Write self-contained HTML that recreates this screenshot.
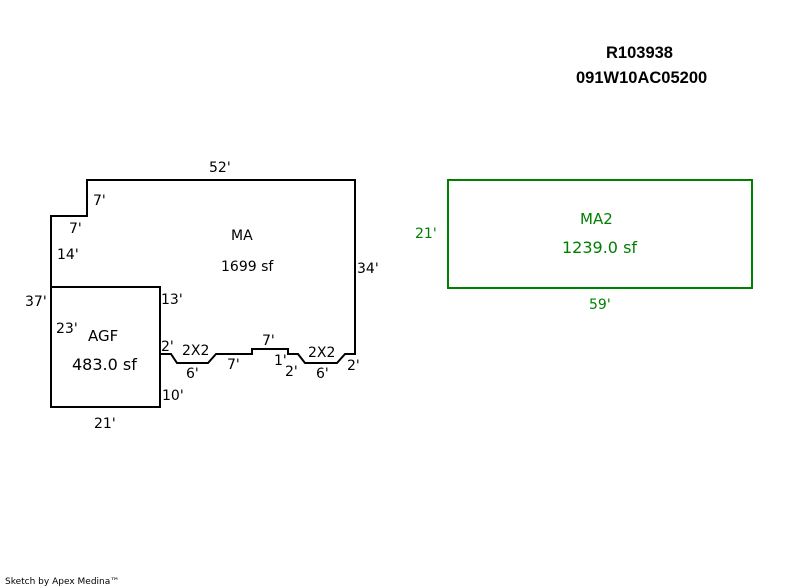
<!DOCTYPE html>
<html><head><style>
body{margin:0;background:#fff;}
svg{display:block;}
text{font-family:"DejaVu Sans","Liberation Sans",sans-serif;font-size:14px;}
</style></head><body>
<svg width="800" height="587" xmlns="http://www.w3.org/2000/svg">
<g fill="none" stroke="#000" stroke-width="2">
<polyline points="160,354 171,354 177,363 208,363 216,354 252,354 252,349 288,349 288,354 298,354 305,363 337,363 345,354 355,354 355,180 87,180 87,216 51,216 51,407 160,407 160,287 51,287"/>
</g>
<rect x="448" y="180" width="304" height="108" fill="none" stroke="#008000" stroke-width="2"/>
<g fill="#000">
<text x="606" y="58" font-weight="bold" style="font-family:'Liberation Sans',sans-serif;font-size:16.5px">R103938</text>
<text x="576" y="83" font-weight="bold" style="font-family:'Liberation Sans',sans-serif;font-size:16.5px">091W10AC05200</text>
<text x="209" y="172">52'</text>
<text x="93" y="205">7'</text>
<text x="69" y="233">7'</text>
<text x="57" y="259">14'</text>
<text x="231" y="240">MA</text>
<text x="221" y="271">1699 sf</text>
<text x="357" y="273">34'</text>
<text x="25" y="306">37'</text>
<text x="161" y="304">13'</text>
<text x="56" y="333">23'</text>
<text x="88" y="341" style="font-size:15px">AGF</text>
<text x="72" y="370" style="font-size:16px">483.0 sf</text>
<text x="161" y="351">2'</text>
<text x="182" y="355">2X2</text>
<text x="186" y="378">6'</text>
<text x="227" y="369">7'</text>
<text x="262" y="345">7'</text>
<text x="274" y="365">1'</text>
<text x="285" y="376">2'</text>
<text x="308" y="357">2X2</text>
<text x="316" y="378">6'</text>
<text x="347" y="370">2'</text>
<text x="162" y="400">10'</text>
<text x="94" y="428">21'</text>
<text x="5" y="584" style="font-size:9px">Sketch by Apex Medina™</text>
</g>
<g fill="#008000">
<text x="580" y="224" style="font-size:15px">MA2</text>
<text x="562" y="253" style="font-size:16px">1239.0 sf</text>
<text x="415" y="238">21'</text>
<text x="589" y="309">59'</text>
</g>
</svg>
</body></html>
